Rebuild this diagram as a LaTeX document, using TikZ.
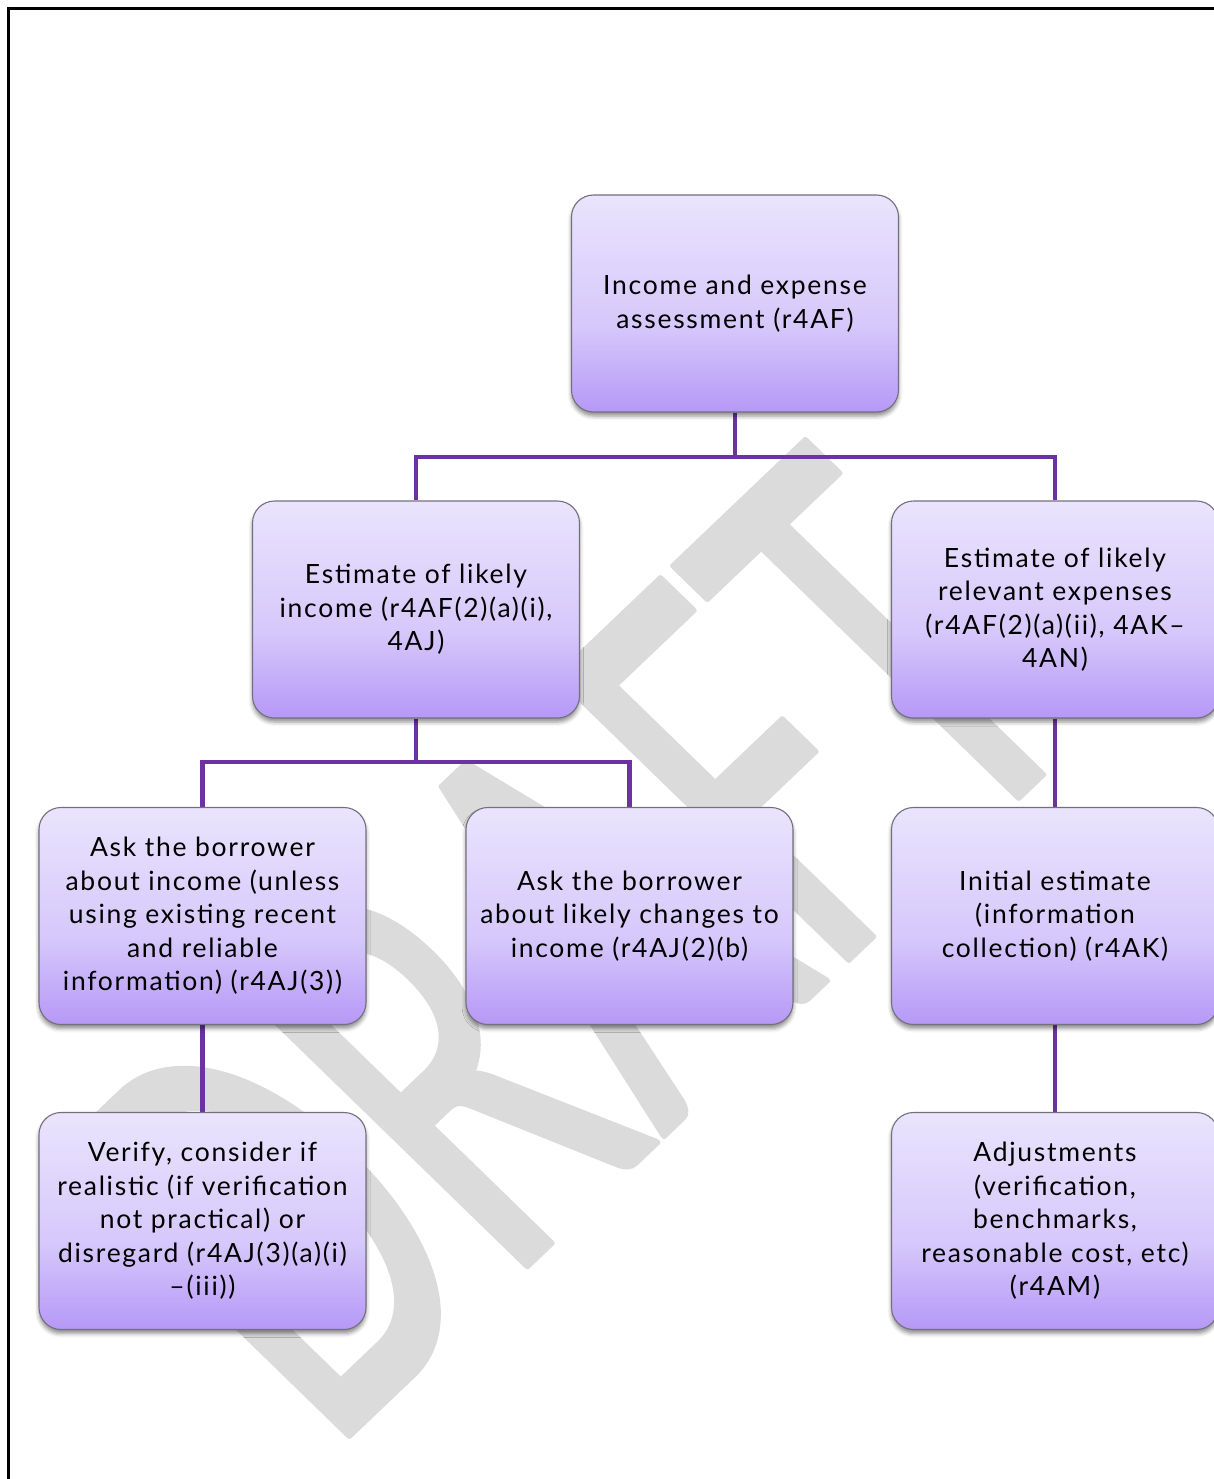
\documentclass[tikz,border=0pt]{standalone}
\usepackage{fontspec}
\setmainfont{Lato}[LetterSpace=6.5]
\newfontfamily\wmfont{Carlito}
\usetikzlibrary{shadows.blur}
\definecolor{boxtop}{RGB}{234,228,253}
\definecolor{boxmid}{RGB}{214,200,251}
\definecolor{boxbot}{RGB}{182,152,247}
\definecolor{boxborder}{RGB}{115,112,125}
\definecolor{conncol}{RGB}{108,50,162}
\definecolor{wmcol}{RGB}{219,219,219}
\pgfdeclareverticalshading{boxshade}{100bp}{color(0bp)=(boxbot); color(25bp)=(boxbot); color(45bp)=(boxmid); color(75bp)=(boxtop); color(100bp)=(boxtop)}
\pgfdeclarelayer{boxlayer}
\pgfsetlayers{main,boxlayer}
\tikzset{
  box/.style={draw=boxborder, line width=1.1pt, rounded corners=22pt, shading=boxshade,
    minimum width=327pt, minimum height=217pt, align=center, inner sep=0pt,
    font=\fontsize{26.5}{33.5}\selectfont,
    blur shadow={shadow xshift=0pt, shadow yshift=-4pt, shadow blur radius=4pt, shadow opacity=45}},
  conn/.style={draw=conncol, line width=4.5pt},
  frame/.style={draw=black, line width=2.7pt},
}
\begin{document}
\begin{tikzpicture}[x=1pt,y=-1pt]
\useasboundingbox (0,0) rectangle (1213,1479);
% watermark
\begin{scope}[cm={1.818,1.733,-2.868,2.788,(328.6pt,-1455.3pt)}]
  \node[transform shape, anchor=base west, inner sep=0pt, text=wmcol,
        font=\wmfont\fontsize{158.2}{160}\selectfont] (wm) at (0,0)
        {\special{pdf:literal direct 2 Tr 1 j 1 J 1.6 w}DRAFT\special{pdf:literal direct 0 Tr}};
\end{scope}
% frame
\coordinate (fa) at (8.3,1490);
\coordinate (fb) at (8.3,8.8);
\coordinate (fc) at (1225,8.8);
\draw[frame] (fa) -- (fb) -- (fc);
% nodes
\begin{pgfonlayer}{boxlayer}
\node[box] (top) at (735,303.5) {Income and expense\\assessment (r4AF)};
\node[box] (l2l) at (416,609.5) {Estimate of likely\\income (r4AF(2)(a)(i),\\4AJ)};
\node[box] (l2r) at (1055,609.5) {Estimate of likely\\relevant expenses\\(r4AF(2)(a)(ii), 4AK–\\4AN)};
\node[box] (l3l) at (202.5,916) {Ask the borrower\\about income (unless\\using existing recent\\and reliable\\information) (r4AJ(3))};
\node[box] (l3m) at (629.5,916) {Ask the borrower\\about likely changes to\\income (r4AJ(2)(b)};
\node[box] (l3r) at (1055,916) {Initial estimate\\(information\\collection) (r4AK)};
\node[box] (l4l) at (202.5,1221) {Verify, consider if\\realistic (if verification\\not practical) or\\disregard (r4AJ(3)(a)(i)\\–(iii))};
\node[box] (l4r) at (1055,1221) {Adjustments\\(verification,\\benchmarks,\\reasonable cost, etc)\\(r4AM)};
\end{pgfonlayer}
% connectors
\coordinate (j1) at (735,457);
\coordinate (j2) at (416,762);
\draw[conn] (top.south) -- (j1) -| (l2l.north);
\draw[conn] (j1) -| (l2r.north);
\draw[conn] (l2l.south) -- (j2) -| (l3l.north);
\draw[conn] (j2) -| (l3m.north);
\draw[conn] (l2r.south) -- (l3r.north);
\draw[conn] (l3r.south) -- (l4r.north);
\draw[conn] (l3l.south) -- (l4l.north);
\end{tikzpicture}
\end{document}
